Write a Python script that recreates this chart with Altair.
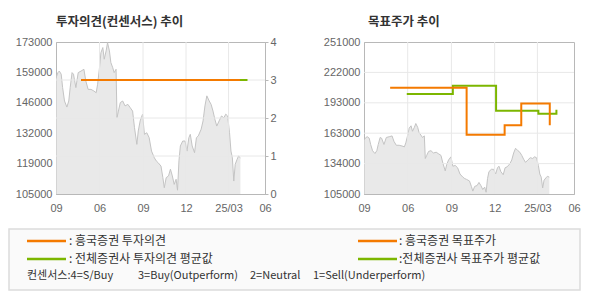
import altair as alt
import pandas as pd

# ---------------- data ----------------
price_days = [0, 4, 7, 11, 14, 18, 23, 27, 30, 34, 37, 42, 47, 53, 59, 63, 68, 74, 80, 85,
              88, 92, 95, 99, 102, 106, 109, 113, 116, 120, 123, 127, 129, 132, 136, 141, 146, 152, 157, 162,
              166, 171, 174, 178, 183, 187, 192, 197, 202, 208, 212, 216, 222, 226, 229, 233, 238, 242, 246, 250,
              254, 257, 260, 263, 268, 273, 277, 281, 284, 288, 293, 297, 301, 307, 311, 315, 319, 324, 328, 332,
              336, 340, 345, 350, 355, 359, 363, 367, 370, 373, 376, 379, 383, 386, 390]
price_vals = [156900, 159300, 160000, 158600, 152600, 146600, 143900, 146600, 152600, 159300,
              158600, 152600, 159300, 160000, 160800, 155600, 151800, 151800, 151100, 150300,
              154100, 161500, 168200, 170500, 165300, 169000, 172700, 169000, 163800, 161500,
              159300, 160800, 139100, 142100, 145900, 146600, 144400, 145100, 143600, 142100,
              134700, 127200, 133200, 137700, 140700, 131700, 132400, 130200, 124200, 121200,
              119800, 119000, 117500, 112300, 107800, 112300, 113100, 116100, 113100, 109300,
              111600, 106700, 119800, 126500, 128700, 128700, 124200, 130200, 131700, 126500,
              123500, 130200, 131000, 134000, 137700, 144400, 148900, 146600, 145100, 142100,
              138400, 135400, 137700, 139900, 139100, 140700, 139900, 132400, 124200, 121200,
              110800, 118300, 120500, 122000, 121200]

tick_days = [0, 92, 184, 275, 365, 442]
tick_labels = ["09", "06", "09", "12", "25/03", "06"]

left_price_ticks = [105000, 118600, 132200, 145800, 159400, 173000]
right_price_ticks = [105000, 134200, 163400, 192600, 221800, 251000]
cons_ticks = [0, 1, 2, 3, 4]

house_cons_days = [53, 389]
house_cons_vals = [3, 3]
avg_cons_days = [53, 405]
avg_cons_vals = [3, 3]

house_tp_days = [55, 216, 296, 331, 391]
house_tp_vals = [207000, 162000, 171000, 192000, 171000]
avg_tp_days = [90, 187, 278, 367, 405]
avg_tp_vals = [201000, 209000, 185000, 182000, 186000]

titles = ["투자의견(컨센서스) 추이", "목표주가 추이"]
legend_labels = [": 흥국증권 투자의견", ": 전체증권사 투자의견 평균값",
                 ": 흥국증권 목표주가", ":전체증권사 목표주가 평균값"]
consensus_notes = ["컨센서스:4=S/Buy", "3=Buy(Outperform)", "2=Neutral", "1=Sell(Underperform)"]

# ---------------- styles ----------------
ORANGE = "#f47a00"
GREEN = "#7cb600"
GRID = "#e8e8e8"
AXIS = "#b8b8b8"
LABEL = "#666666"
KFONT = "Noto Sans CJK KR"
NFONT = "Liberation Sans"

price_df = pd.DataFrame({"day": price_days, "price": price_vals})
grid_df = pd.DataFrame({"day": tick_days[1:-1]})
one = pd.DataFrame({"a": [0]})

label_expr = ("[" + ",".join("'%s'" % l for l in tick_labels) + "][indexof(["
              + ",".join(str(d) for d in tick_days) + "], datum.value)]")

x_scale = alt.Scale(domain=[tick_days[0], tick_days[-1]], nice=False, zero=False)
x_axis = alt.Axis(values=tick_days, labelExpr=label_expr, title=None, grid=False, ticks=False,
                  labelPadding=8, labelFlush=False, labelOverlap=False, domainColor=AXIS,
                  labelColor=LABEL, labelFont=NFONT, labelFontSize=11)


def xe(field="day"):
    return alt.X(f"{field}:Q", scale=x_scale, axis=x_axis)


def price_axis(ticks):
    return alt.Axis(values=ticks, labelExpr="format(round(datum.value/1000)*1000,'d')", title=None,
                    orient="left", grid=False, ticks=False, labelPadding=4, domainColor=AXIS,
                    labelColor=LABEL, labelFont=NFONT, labelFontSize=11)


def text_layer(txt, x, y, size=12, bold=False, color="#333333"):
    return alt.Chart(pd.DataFrame({"t": [txt]})).mark_text(
        align="left", baseline="middle", font=KFONT, fontSize=size,
        fontWeight="bold" if bold else "normal", color=color
    ).encode(x=alt.value(x), y=alt.value(y), text="t:N")


# ---------------- left panel ----------------
lp_domain = [left_price_ticks[0], left_price_ticks[-1]]
lp_y = alt.Y("price:Q", scale=alt.Scale(domain=lp_domain, nice=False, zero=False),
             axis=price_axis(left_price_ticks))
area_left = alt.Chart(price_df).mark_area(
    color="#e0e0e0", clip=True, line=alt.OverlayMarkDef(color="#c4c4c4", strokeWidth=1)
).encode(x=xe(), y=lp_y, y2=alt.datum(lp_domain[0]))

vgrid = alt.Chart(grid_df).mark_rule(color=GRID, strokeWidth=1).encode(x=xe())

cons_axis = alt.Axis(values=cons_ticks, orient="right", title=None, grid=False, ticks=True, tickSize=3,
                     tickColor=AXIS, labelPadding=2, domainColor=AXIS, labelColor=LABEL,
                     labelFont=NFONT, labelFontSize=11)
cons_y = alt.Y("v:Q", scale=alt.Scale(domain=[0, 4], nice=False, zero=True), axis=cons_axis)
hgrid_left = alt.Chart(pd.DataFrame({"v": cons_ticks[1:-1]})).mark_rule(color=GRID, strokeWidth=1).encode(y=cons_y)

cons_df = pd.DataFrame({
    "day": avg_cons_days + house_cons_days,
    "v": avg_cons_vals + house_cons_vals,
    "s": ["a_avg"] * len(avg_cons_days) + ["b_house"] * len(house_cons_days),
})
cons_lines = alt.Chart(cons_df).mark_line(strokeWidth=2).encode(
    x=xe(), y=cons_y,
    color=alt.Color("s:N", scale=alt.Scale(domain=["a_avg", "b_house"], range=[GREEN, ORANGE]), legend=None),
)
cons_layer = alt.layer(hgrid_left, cons_lines)

# invisible element fixing the top-left origin of the whole picture
anchor = alt.Chart(one).mark_rect(opacity=0).encode(
    x=alt.value(-55), x2=alt.value(0), y=alt.value(-41), y2=alt.value(0))

# legend box (drawn inside the left panel, below the plots)
box = alt.Chart(one).mark_rect(fill="#fafafa", stroke="#dcdcdc", strokeWidth=1.5).encode(
    x=alt.value(-47), x2=alt.value(524), y=alt.value(187), y2=alt.value(248))


def leg_line(color, x, y):
    return alt.Chart(one).mark_rule(color=color, strokeWidth=2.5).encode(
        x=alt.value(x), x2=alt.value(x + 39), y=alt.value(y))


legend_layers = [
    box,
    leg_line(ORANGE, -29, 199), text_layer(legend_labels[0], 13, 199),
    leg_line(GREEN, -29, 217), text_layer(legend_labels[1], 13, 217),
    leg_line(ORANGE, 302, 199), text_layer(legend_labels[2], 343, 199),
    leg_line(GREEN, 302, 217), text_layer(legend_labels[3], 343, 217),
    text_layer(consensus_notes[0], -29, 234, size=11),
    text_layer(consensus_notes[1], 82, 234, size=11),
    text_layer(consensus_notes[2], 194, 234, size=11),
    text_layer(consensus_notes[3], 257, 234, size=11),
]

left = alt.layer(
    anchor, area_left, vgrid, cons_layer,
    text_layer(titles[0], 0, -20, size=12.5, bold=True),
    *legend_layers
).resolve_scale(y="independent").properties(width=209, height=152)

# ---------------- right panel ----------------
rp_domain = [right_price_ticks[0], right_price_ticks[-1]]
rp_scale = alt.Scale(domain=rp_domain, nice=False, zero=False)
rp_axis = price_axis(right_price_ticks)


def rye(field):
    return alt.Y(f"{field}:Q", scale=rp_scale, axis=rp_axis)


area_right = alt.Chart(price_df).mark_area(
    color="#e0e0e0", clip=True, line=alt.OverlayMarkDef(color="#c4c4c4", strokeWidth=1)
).encode(x=xe(), y=rye("price"), y2=alt.datum(rp_domain[0]))

hgrid_right = alt.Chart(pd.DataFrame({"price": right_price_ticks[1:-1]})).mark_rule(
    color=GRID, strokeWidth=1).encode(y=rye("price"))

tp_df = pd.DataFrame({
    "day": avg_tp_days + house_tp_days,
    "price": avg_tp_vals + house_tp_vals,
    "s": ["a_avg"] * len(avg_tp_days) + ["b_house"] * len(house_tp_days),
})
tp_lines = alt.Chart(tp_df).mark_line(strokeWidth=2, interpolate="step-after").encode(
    x=xe(), y=rye("price"),
    color=alt.Color("s:N", scale=alt.Scale(domain=["a_avg", "b_house"], range=[GREEN, ORANGE]), legend=None),
)

right = alt.layer(
    area_right, vgrid, hgrid_right, tp_lines,
    text_layer(titles[1], 4, -20, size=12.5, bold=True),
).properties(width=210, height=152)

chart = alt.hconcat(left, right, spacing=99, bounds="flush").properties(
    padding=0, background="white"
).configure_view(stroke=AXIS, strokeWidth=1).resolve_scale(color="independent")

chart.save("out.html", embed_options={"renderer": "svg", "actions": False})
